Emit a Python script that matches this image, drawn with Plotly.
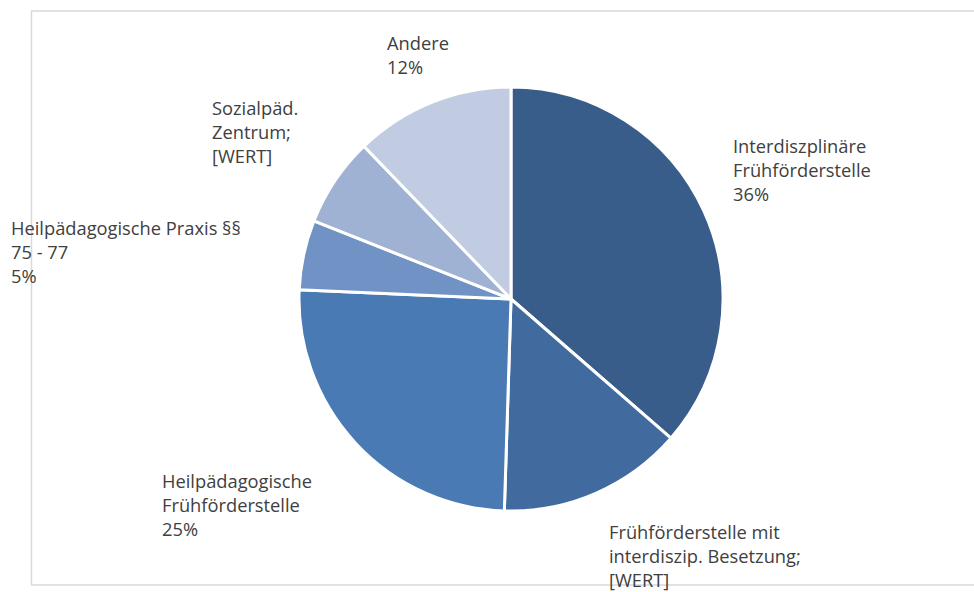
import plotly.graph_objects as go

W, H = 974, 592

categories = [
    "Interdiszplinäre Frühförderstelle",
    "Frühförderstelle mit interdiszip. Besetzung",
    "Heilpädagogische Frühförderstelle",
    "Heilpädagogische Praxis §§ 75 - 77",
    "Sozialpäd. Zentrum",
    "Andere",
]
values = [36.4, 14.1, 25.2, 5.3, 6.8, 12.2]
label_texts = [
    "Interdiszplinäre<br>Frühförderstelle<br>36%",
    "Frühförderstelle mit<br>interdiszip. Besetzung;<br>[WERT]",
    "Heilpädagogische<br>Frühförderstelle<br>25%",
    "Heilpädagogische Praxis §§<br>75 - 77<br>5%",
    "Sozialpäd.<br>Zentrum;<br>[WERT]",
    "Andere<br>12%",
]
colors = ["#385D8A", "#416B9F", "#4A7AB4", "#7092C4", "#A0B2D3", "#C1CBE1"]

# label block positions: left x and vertical center y (pixels)
label_pos = [(731, 169), (607, 555), (160, 504), (9, 251.5), (210, 131.5), (385, 54.5)]

fig = go.Figure(go.Pie(
    labels=categories,
    values=values,
    sort=False,
    direction="clockwise",
    rotation=0,
    marker=dict(colors=colors, line=dict(color="white", width=3)),
    textinfo="none",
    hoverinfo="label+percent",
    domain=dict(x=[299 / W, 723 / W], y=[(H - 511) / H, (H - 87) / H]),
    showlegend=False,
))

for txt, (px, py) in zip(label_texts, label_pos):
    fig.add_annotation(
        x=px / W, y=1 - py / H, xref="paper", yref="paper",
        xanchor="left", yanchor="middle", align="left",
        text=txt, showarrow=False,
        font=dict(family="Open Sans, Noto Sans, sans-serif", size=18.3, color="#404040"),
    )

fig.add_shape(type="rect", xref="paper", yref="paper",
              x0=31.5 / W, x1=1.02, y0=1 - 585 / H, y1=1 - 11 / H,
              line=dict(color="#D9D9D9", width=1.5), fillcolor="rgba(0,0,0,0)")

fig.update_layout(
    width=W, height=H,
    margin=dict(l=0, r=0, t=0, b=0),
    paper_bgcolor="white", plot_bgcolor="white",
)

fig.write_html(
    "out.html",
    config={"displayModeBar": False},
    post_script="document.body.style.margin='0';document.body.style.overflow='hidden';",
)
